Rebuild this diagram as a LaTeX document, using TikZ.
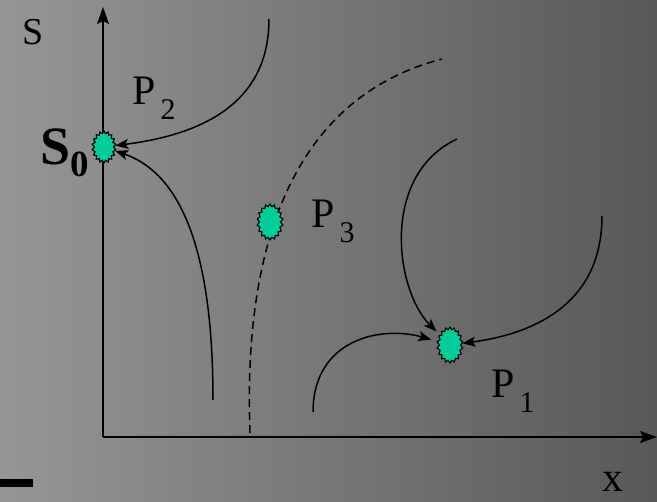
\documentclass[tikz,border=0pt]{standalone}
\usepackage{fontspec}
\setmainfont{Liberation Serif}
\usetikzlibrary{arrows.meta,shapes.symbols}
\pgfdeclarelayer{back}
\pgfdeclarelayer{bg}
\pgfsetlayers{back,bg,main}
\definecolor{blobgreen}{RGB}{0,204,153}
\definecolor{bgleft}{RGB}{150,150,150}
\definecolor{bgright}{RGB}{88,88,88}
\tikzset{
  blob/.style={shape=starburst, draw=black, line width=1.1pt, fill=blobgreen,
    starburst points=18, starburst point height=2.5pt, random starburst=0,
    inner sep=0pt},
  flow/.style={line width=1.5pt, -{Stealth[length=13pt,width=10pt,inset=3pt]}},
  axis/.style={line width=2pt, -{Stealth[length=17pt,width=12pt,inset=3pt]}},
  sep/.style={line width=1.5pt, dash pattern=on 8pt off 5pt},
  lbl/.style={anchor=base west, inner sep=0pt, font=\fontsize{42}{42}\selectfont},
}
\newcommand{\sbx}[1]{\hspace{5pt}\raisebox{-15pt}{\fontsize{30}{30}\selectfont #1}}
\begin{document}
\begin{tikzpicture}[x=1pt,y=-1pt]
\useasboundingbox (0,0) rectangle (657,502);
\begin{pgfonlayer}{back}
  \shade[left color=bgleft, right color=bgright] (0,0) rectangle (657,502);
  \fill[black] (0,479) rectangle (33,487);
\end{pgfonlayer}
% points
\node[blob, minimum width=24pt, minimum height=32pt] (s0) at (104,147) {};
\node[blob, minimum width=26pt, minimum height=36pt] (p3) at (270,222) {};
\node[blob, minimum width=26pt, minimum height=36pt] (p1) at (450,345) {};
% axes
\coordinate (o) at (103,437);
\coordinate (ytop) at (103,7);
\coordinate (xend) at (657,437);
\begin{pgfonlayer}{bg}
  \draw[axis] (o) -- (ytop);
  \draw[axis] (o) -- (xend);
  \coordinate (d0) at (250,433);
  \coordinate (d1) at (442,59);
  \draw[sep] (d0) .. controls (245,300) and (265,105) .. (d1);
\end{pgfonlayer}
% trajectories
\coordinate (a1) at (269,19);
\coordinate (a2) at (213,400);
\coordinate (a4) at (602,216);
\coordinate (a5) at (457,139);
\coordinate (a6) at (313,412);
\draw[flow] (a1) .. controls (269,95) and (215,133) .. (s0);
\draw[flow] (a2) .. controls (213,260) and (185,175) .. (s0);
\draw[flow] (a4) .. controls (602,300) and (540,333) .. (p1);
\draw[flow, shorten >=5pt] (a5) .. controls (380,175) and (395,290) .. (p1);
\draw[flow, shorten >=6pt] (a6) .. controls (313,340) and (380,325) .. (p1);
% labels
\node[lbl, font=\fontsize{38}{38}\selectfont] (ls) at (22,45) {S};
\node[lbl, font=\fontsize{54}{54}\selectfont\bfseries] (ls0) at (40,165) {S\raisebox{-12pt}{\fontsize{37}{37}\selectfont 0}};
\node[lbl] (lp2) at (132,105) {P\sbx{2}};
\node[lbl] (lp3) at (311,228) {P\sbx{3}};
\node[lbl] (lp1) at (491,398) {P\sbx{1}};
\node[lbl] (lx) at (602,492) {x};
\end{tikzpicture}
\end{document}
